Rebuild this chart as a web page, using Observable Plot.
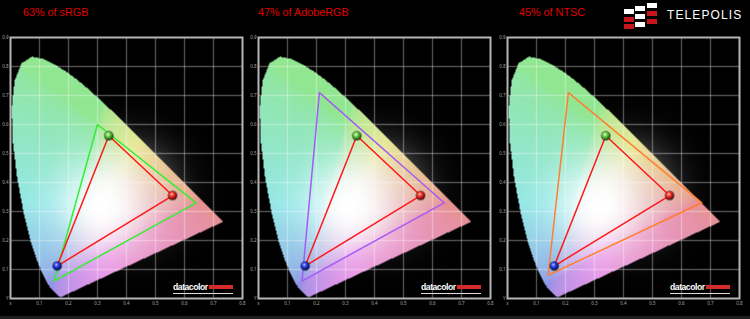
<!DOCTYPE html>
<html><head><meta charset="utf-8">
<script src="https://cdn.jsdelivr.net/npm/d3@7"></script>
<script src="https://cdn.jsdelivr.net/npm/@observablehq/plot@0.6"></script>
<style>
html,body{margin:0;padding:0;background:#000;}
#root{position:relative;width:750px;height:319px;background:#000;overflow:hidden;font-family:"Liberation Sans",Arial,sans-serif;}
.title{position:absolute;top:6px;color:#e00000;font-size:10.8px;white-space:nowrap;}
.panel{position:absolute;top:32px;width:250px;height:282px;}
.dc{position:absolute;top:249px;left:173px;width:60px;height:12px;display:flex;align-items:center;border-bottom:1px solid #ddd;}
.dc .t{color:#fff;font-weight:bold;font-size:8.6px;letter-spacing:-0.45px;line-height:10px;}
.dc .bar{flex:1;height:4px;margin-left:1px;background:#d42a2a;}
#strip{position:absolute;left:0;bottom:0;width:750px;height:3px;background:#1e1e1e;}
.blk{position:absolute;width:10px;height:5px;}
#tp{position:absolute;left:667px;top:8px;color:#fff;font-size:12px;letter-spacing:1.1px;}
</style></head>
<body><div id="root"></div>
<script>
// ---- data ----
const titles = ["63% of sRGB", "47% of AdobeRGB", "45% of NTSC"];
// CIE 1931 spectral locus (380–700 nm, 5 nm steps)
const locusX = [0.1741,0.1740,0.1738,0.1736,0.1733,0.1730,0.1726,0.1721,0.1714,0.1703,0.1689,0.1669,0.1644,0.1611,0.1566,0.1510,0.1440,0.1355,0.1241,0.1096,0.0913,0.0687,0.0454,0.0235,0.0082,0.0039,0.0139,0.0389,0.0743,0.1142,0.1547,0.1929,0.2296,0.2658,0.3016,0.3373,0.3731,0.4087,0.4441,0.4788,0.5125,0.5448,0.5752,0.6029,0.6270,0.6482,0.6658,0.6801,0.6915,0.7006,0.7079,0.7140,0.7190,0.7230,0.7260,0.7283,0.7300,0.7311,0.7320,0.7327,0.7334,0.7340,0.7344,0.7346,0.7347];
const locusY = [0.0050,0.0050,0.0049,0.0049,0.0048,0.0048,0.0048,0.0048,0.0051,0.0058,0.0069,0.0086,0.0109,0.0138,0.0177,0.0227,0.0297,0.0399,0.0578,0.0868,0.1327,0.2007,0.2950,0.4127,0.5384,0.6548,0.7502,0.8120,0.8338,0.8262,0.8059,0.7816,0.7543,0.7243,0.6923,0.6589,0.6245,0.5896,0.5547,0.5202,0.4866,0.4544,0.4242,0.3965,0.3725,0.3514,0.3340,0.3197,0.3083,0.2993,0.2920,0.2859,0.2809,0.2770,0.2740,0.2717,0.2700,0.2689,0.2680,0.2673,0.2666,0.2660,0.2656,0.2654,0.2653];
// measured display primaries (R, G, B)
const measuredX = [0.559, 0.339, 0.161];
const measuredY = [0.355, 0.561, 0.112];
// reference gamuts (R, G, B)
const sRGBx = [0.64, 0.30, 0.15], sRGBy = [0.33, 0.60, 0.06];
const adobeX = [0.64, 0.21, 0.15], adobeY = [0.33, 0.71, 0.06];
const ntscX = [0.67, 0.21, 0.14], ntscY = [0.33, 0.71, 0.08];
const xTicks = [0, 0.1, 0.2, 0.3, 0.4, 0.5, 0.6, 0.7, 0.8];
const xTickLabels = ["x", "0.1", "0.2", "0.3", "0.4", "0.5", "0.6", "0.7", "0.8"];
const yTicks = [0, 0.1, 0.2, 0.3, 0.4, 0.5, 0.6, 0.7, 0.8, 0.9];
const yTickLabels = ["Y", "0.1", "0.2", "0.3", "0.4", "0.5", "0.6", "0.7", "0.8", "0.9"];

// ---- styles / layout ----
const gamutColors = ["#33ee33", "#a35cf5", "#ff7f30"];
const ballFills = ["url(#ballR)", "url(#ballG)", "url(#ballB)"];
const panelLeft = [0, 248, 497];
const titleLeft = [23, 258, 519];

const locus = locusX.map((x, i) => [x, locusY[i]]);
const gamuts = [[sRGBx, sRGBy], [adobeX, adobeY], [ntscX, ntscY]].map(([gx, gy]) => gx.map((x, i) => ({x, y: gy[i]})));
const measured = measuredX.map((x, i) => ({x, y: measuredY[i], fill: ballFills[i]}));

const gam = v => v <= 0.0031308 ? 12.92 * v : 1.055 * Math.pow(v, 1 / 2.4) - 0.055;
function pixelColor(x, y) {
  if (d3.polygonContains(locus, [x, y])) {
    const X = x / y, Y = 1, Z = (1 - x - y) / y;
    let r = Math.max(0, 3.2406 * X - 1.5372 * Y - 0.4986 * Z);
    let g = Math.max(0, -0.9689 * X + 1.8758 * Y + 0.0415 * Z);
    let b = Math.max(0, 0.0557 * X - 0.2040 * Y + 1.0570 * Z);
    const m = Math.max(r, g, b) || 1;
    r = gam(r / m); g = gam(g / m); b = gam(b / m);
    const d = Math.hypot(x - 0.32, y - 0.32);
    const glow = Math.exp(-((d / 0.16) ** 2));
    const w = 0.63 + 0.37 * glow;
    const s = 230 + 25 * glow;
    const f = v => Math.round(s * (w + (1 - w) * v));
    return `rgb(${f(r)},${f(g)},${f(b)})`;
  }
  const d = Math.hypot(x - 0.4, y - 0.37);
  const gv = Math.round(160 * Math.exp(-((d / 0.15) ** 2)));
  return `rgb(${gv},${gv},${gv})`;
}

const root = document.getElementById("root");
// gradient defs for the primary "balls"
root.insertAdjacentHTML("beforeend", `<svg width="0" height="0" style="position:absolute"><defs>
<radialGradient id="ballR" cx="40%" cy="35%" r="65%"><stop offset="0" stop-color="#ffb0a0"/><stop offset="0.45" stop-color="#e62a22"/><stop offset="1" stop-color="#5a0a08"/></radialGradient>
<radialGradient id="ballG" cx="40%" cy="35%" r="65%"><stop offset="0" stop-color="#d8ffc0"/><stop offset="0.45" stop-color="#5cc03a"/><stop offset="1" stop-color="#1d4a12"/></radialGradient>
<radialGradient id="ballB" cx="40%" cy="35%" r="65%"><stop offset="0" stop-color="#a8b8ff"/><stop offset="0.45" stop-color="#2336d8"/><stop offset="1" stop-color="#0a1050"/></radialGradient>
</defs></svg>`);

titles.forEach((t, k) => {
  const div = document.createElement("div");
  div.className = "title";
  div.style.left = titleLeft[k] + "px";
  div.textContent = t;
  root.appendChild(div);

  const panel = document.createElement("div");
  panel.className = "panel";
  panel.style.left = panelLeft[k] + "px";
  const chart = Plot.plot({
    width: 250, height: 282,
    marginLeft: 10, marginRight: 8, marginTop: 5, marginBottom: 16,
    style: {background: "transparent", color: "#a8a8a8", overflow: "visible"},
    x: {domain: [0, 0.8], label: null},
    y: {domain: [0, 0.9], label: null},
    color: {type: "identity"},
    marks: [
      Plot.raster({x1: 0, x2: 0.8, y1: 0, y2: 0.9, fill: pixelColor, pixelSize: 1}),
      Plot.gridX({ticks: xTicks.slice(1, -1), stroke: "#fff", strokeOpacity: 0.3, strokeWidth: 1.4}),
      Plot.gridY({ticks: yTicks.slice(1, -1), stroke: "#fff", strokeOpacity: 0.3, strokeWidth: 1.4}),
      Plot.frame({stroke: "#b5b5b5", strokeWidth: 2}),
      Plot.axisX({ticks: xTicks, tickFormat: d => xTickLabels[Math.round(d * 10)], tickSize: 0, tickPadding: 3, fontSize: 4.5, fill: "#a8a8a8"}),
      Plot.axisY({ticks: yTicks, tickFormat: d => yTickLabels[Math.round(d * 10)], tickSize: 0, tickPadding: 2, fontSize: 4.5, fill: "#a8a8a8"}),
      Plot.line(gamuts[k], {x: "x", y: "y", curve: "linear-closed", stroke: gamutColors[k], strokeWidth: 1.5}),
      Plot.line(measured, {x: "x", y: "y", curve: "linear-closed", stroke: "#ff1818", strokeWidth: 1.5}),
      Plot.dot(measured, {x: "x", y: "y", r: 5.2, fill: "#000", fillOpacity: 0.35}),
      Plot.dot(measured, {x: "x", y: "y", r: 4.3, fill: "fill"})
    ]
  });
  panel.appendChild(chart);
  const dc = document.createElement("div");
  dc.className = "dc";
  dc.innerHTML = '<div class="t">datacolor</div><div class="bar"></div>';
  panel.appendChild(dc);
  root.appendChild(panel);
});

// TELEPOLIS logo
const blocks = [
  [624, 9, "#fff"], [624, 17, "#c8161d"], [624, 24, "#c8161d"],
  [635, 6, "#fff"], [635, 14, "#fff"], [635, 22, "#fff"],
  [647, 3, "#fff"], [647, 11, "#c8161d"], [647, 19, "#c8161d"]
];
blocks.forEach(([l, t, c]) => {
  const b = document.createElement("div");
  b.className = "blk";
  b.style.left = l + "px"; b.style.top = t + "px"; b.style.background = c;
  root.appendChild(b);
});
const tp = document.createElement("div");
tp.id = "tp"; tp.textContent = "TELEPOLIS";
root.appendChild(tp);
const strip = document.createElement("div");
strip.id = "strip";
root.appendChild(strip);
</script>
</body></html>
